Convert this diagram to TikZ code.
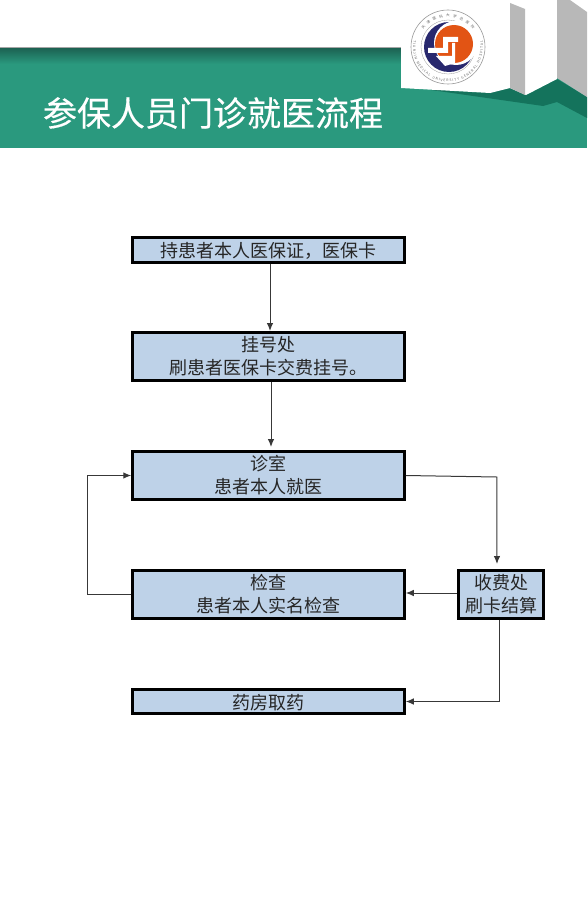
\documentclass[tikz,border=0pt]{standalone}
\usepackage{fontspec}
\setmainfont{Noto Sans CJK SC}
\newfontfamily\titlefont[FakeBold=0.4]{Noto Sans CJK SC}
\usetikzlibrary{arrows.meta, decorations.text}
\definecolor{bannergreen}{RGB}{42,153,126}
\definecolor{bannerdark}{RGB}{28,98,82}
\definecolor{shadowgreen}{RGB}{20,115,92}
\definecolor{boxblue}{RGB}{190,210,232}
\definecolor{sidegray}{RGB}{184,184,184}
\definecolor{logoblue}{RGB}{40,40,110}
\definecolor{logoorange}{RGB}{226,84,20}
\tikzset{
	stepbox/.style = {draw, line width=3pt, fill=boxblue, inner sep=0pt, align=center, font=\fontsize{18}{23}\selectfont, text=black!85, execute at begin node=\rule{0pt}{17pt}},
	twoline/.style = {execute at begin node={}, execute at end node=\vspace{-9pt}},
	link/.style = {-{Latex[length=8pt, width=6.5pt]}, line width=1pt, black!78},
}
\begin{document}
\begin{tikzpicture}[x=1pt, y=-1pt]
		\useasboundingbox (0, 0) rectangle (587, 907);
		% banner
		\fill [bannergreen] (0, 47) rectangle (587, 148);
		\shade [top color=bannerdark, bottom color=bannergreen] (0, 48) rectangle (402, 64);
		\draw [black!35, line width=0.6pt] (0, 47.5) -- (401, 47.5);
		\fill [shadowgreen] (431, 90) -- (510, 88) -- (526, 95) -- (557, 79) -- (587, 97) -- (587, 118) -- (557, 102) -- (543, 106) -- cycle;
		\fill [white] (401, 0) -- (557, 0) -- (557, 79) -- (526, 95) -- (510, 88) -- (490, 93) -- (401, 88) -- cycle;
		\fill [sidegray] (510, 3) -- (525, 9) -- (525, 95) -- (510, 88) -- cycle;
		\fill [sidegray] (557, 0) -- (570, 0) -- (587, 12) -- (587, 97) -- (557, 78) -- cycle;
		\node (title) at (213, 113) [text=white, font=\fontsize{34}{34}\titlefont] {参保人员门诊就医流程};
		% logo
		\draw [black!40, line width=0.6pt] (448, 47) circle (37);
		\draw [black!40, line width=0.3pt] (448, 47) circle (27);
		\path [decorate, decoration={text along path, text color=black!60, text align=fit to path, text={|\fontsize{3.4}{3.4}\selectfont|TIANJIN MEDICAL UNIVERSITY GENERAL HOSPITAL}}] (448, 47) ++(190:35) arc [start angle=190, end angle=-10, radius=35];
		\path [decorate, decoration={text along path, text color=black!60, text align=fit to path, text={|\fontsize{3.6}{3.6}\selectfont|天津医科大学总医院}}] (448, 47) ++(215:30) arc [start angle=215, end angle=325, radius=30];
		\fill [logoblue] (449, 47) circle (25);
		\fill [white] (456, 43) circle (22);
		\fill [logoorange] (454, 44) circle (19);
		\fill [white] (428, 48) -- (443, 48) -- (443, 37) -- (458, 37) -- (458, 42) -- (448, 42) -- (448, 53) -- (428, 53) -- cycle;
		\fill [white] (452, 43) -- (455, 43) -- (455, 63) -- (445, 66) -- (436, 56) -- (452, 56) -- cycle;
		% boxes
		\node (card) at (268.5, 250) [stepbox, minimum width=271.5pt, minimum height=25pt] {持患者本人医保证，医保卡};
		\node (register) at (268.5, 356.5) [stepbox, twoline, minimum width=271.5pt, minimum height=48pt] {挂号处\\刷患者医保卡交费挂号。};
		\node (clinic) at (268.5, 475.5) [stepbox, twoline, minimum width=271.5pt, minimum height=48pt] {诊室\\患者本人就医};
		\node (check) at (268.5, 594.5) [stepbox, twoline, minimum width=271.5pt, minimum height=48pt] {检查\\患者本人实名检查};
		\node (pay) at (501, 594.5) [stepbox, twoline, minimum width=85pt, minimum height=48pt] {收费处\\刷卡结算};
		\node (pharmacy) at (268.5, 701.5) [stepbox, minimum width=271.5pt, minimum height=24pt] {药房取药};
		% links
		\draw [link] (card.south -| 270, 0) -- (register.north -| 270, 0);
		\draw [link, shorten >=3pt] (register.south -| 271, 0) -- (clinic.north -| 271, 0);
		\draw [link, shorten >=5pt] (clinic.east) -- ++(91, 1.5) -- (pay.north -| 497, 0);
		\draw [link] (pay.west |- 0, 593) -- (check.east |- 0, 593);
		\draw [link] (check.west) -- ++(-44, 0) |- (clinic.west);
		\draw [link] (pay.south -| 499, 0) |- (pharmacy.east);
	\end{tikzpicture}
\end{document}
